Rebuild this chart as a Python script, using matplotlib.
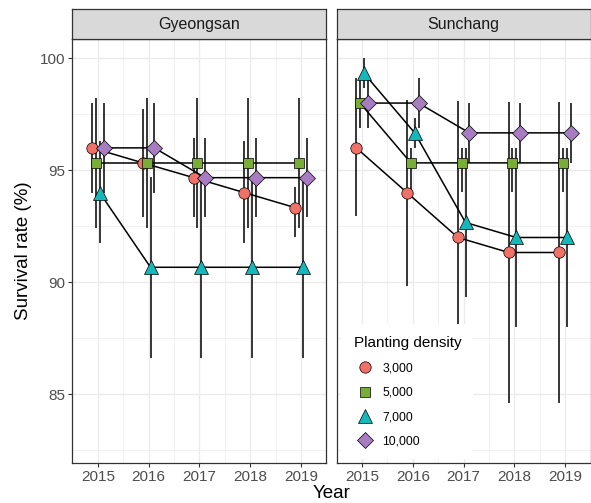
import matplotlib
matplotlib.use("Agg")
import matplotlib.pyplot as plt
from matplotlib.lines import Line2D
import numpy as np

plt.rcParams['font.family'] = ['Liberation Sans', 'DejaVu Sans']

# data
years = [2015, 2016, 2017, 2018, 2019]
densities = ['3,000', '5,000', '7,000', '10,000']
sites = ['Gyeongsan', 'Sunchang']

# Gyeongsan: mean, lower and upper end of error bar
gy_mean = {
    '3,000': [96.0, 95.33, 94.67, 94.0, 93.33],
    '5,000': [95.33, 95.33, 95.33, 95.33, 95.33],
    '7,000': [94.0, 90.67, 90.67, 90.67, 90.67],
    '10,000': [96.0, 96.0, 94.67, 94.67, 94.67],
}
gy_lo = {
    '3,000': [94.0, 92.93, 92.93, 91.74, 92.04],
    '5,000': [92.41, 92.41, 92.41, 92.41, 92.41],
    '7,000': [91.74, 86.6, 86.6, 86.6, 86.6],
    '10,000': [94.0, 94.0, 92.93, 92.93, 92.93],
}
gy_hi = {
    '3,000': [98.0, 97.72, 96.43, 96.31, 94.24],
    '5,000': [98.21, 98.21, 98.21, 98.21, 98.21],
    '7,000': [96.3, 94.71, 94.71, 94.71, 94.71],
    '10,000': [98.0, 98.0, 96.43, 96.43, 96.43],
}

# Sunchang
su_mean = {
    '3,000': [96.0, 94.0, 92.0, 91.33, 91.33],
    '5,000': [98.0, 95.33, 95.33, 95.33, 95.33],
    '7,000': [99.33, 96.67, 92.67, 92.0, 92.0],
    '10,000': [98.0, 98.0, 96.67, 96.67, 96.67],
}
su_lo = {
    '3,000': [92.97, 89.83, 87.9, 84.6, 84.6],
    '5,000': [96.9, 94.04, 94.04, 94.04, 94.04],
    '7,000': [98.66, 96.0, 89.36, 88.0, 88.0],
    '10,000': [96.9, 96.87, 95.33, 95.33, 95.33],
}
su_hi = {
    '3,000': [99.1, 98.15, 98.1, 98.06, 98.06],
    '5,000': [99.1, 95.98, 95.98, 95.98, 95.98],
    '7,000': [100.0, 97.33, 96.0, 96.0, 96.0],
    '10,000': [99.1, 99.13, 98.0, 98.0, 98.0],
}

colors = {'3,000': '#F07167', '5,000': '#7AAD35', '7,000': '#14B7BA', '10,000': '#A87CC0'}
markers = {'3,000': ('o', 8.2), '5,000': ('s', 7.2), '7,000': ('^', 10.5), '10,000': ('D', 8.6)}
dodge = 0.075

W, H = 591, 503
fig = plt.figure(figsize=(W / 100, H / 100), dpi=100)

panel_l = [72.4, 336.6]
panel_w = 254.0
panel_top, panel_bot = 39.0, 463.3
strip_top = 9.3

data = [(gy_mean, gy_lo, gy_hi), (su_mean, su_lo, su_hi)]
axes = []
for k, site in enumerate(sites):
    ax = fig.add_axes([panel_l[k] / W, (H - panel_bot) / H, panel_w / W, (panel_bot - panel_top) / H])
    axes.append(ax)
    means, los, his = data[k]
    for i, d in enumerate(densities):
        x = np.array(years) + (i - 1.5) * dodge
        m = np.array(means[d])
        lo = np.array(los[d])
        hi = np.array(his[d])
        ax.errorbar(x, m, yerr=[m - lo, hi - m], fmt='none', ecolor='black',
                    elinewidth=1.1, capsize=0, zorder=3)
    for i, d in enumerate(densities):
        x = np.array(years) + (i - 1.5) * dodge
        ax.plot(x, means[d], color='black', lw=1.1, zorder=4)
    for i, d in enumerate(densities):
        x = np.array(years) + (i - 1.5) * dodge
        mk, ms = markers[d]
        ax.plot(x, means[d], ls='none', marker=mk, ms=ms, mfc=colors[d],
                mec='black', mew=0.5, zorder=5, label=d)

    ax.set_xlim(2014.65, 2019.35)
    ax.set_ylim(81.92, 100.86)
    ax.set_xticks(years)
    ax.set_xticks(np.arange(2014.5, 2020, 1.0), minor=True)
    ax.set_yticks([85, 90, 95, 100])
    ax.set_yticks([82.5, 87.5, 92.5, 97.5], minor=True)
    ax.grid(which='major', color='#EBEBEB', lw=1.0, zorder=0)
    ax.grid(which='minor', color='#EBEBEB', lw=0.5, zorder=0)
    ax.set_axisbelow(True)
    for s in ax.spines.values():
        s.set_color('#333333')
        s.set_linewidth(0.9)
    ax.tick_params(which='major', length=3, width=0.8, color='#333333',
                   labelcolor='#4D4D4D', labelsize=11, pad=2)
    ax.tick_params(which='minor', length=0)
    if k == 1:
        ax.tick_params(axis='y', which='both', left=False, labelleft=False)

    sax = fig.add_axes([panel_l[k] / W, (H - panel_top) / H, panel_w / W, (panel_top - strip_top) / H])
    sax.set_facecolor('#D9D9D9')
    sax.set_xticks([])
    sax.set_yticks([])
    for s in sax.spines.values():
        s.set_color('#333333')
        s.set_linewidth(0.9)
    sax.text(0.5, 0.5, site, ha='center', va='center', fontsize=11.5, color='#1A1A1A',
             transform=sax.transAxes)

handles = [Line2D([], [], ls='none', marker=markers[d][0], ms=markers[d][1], mfc=colors[d],
                  mec='black', mew=0.5) for d in densities]
leg = axes[1].legend(handles, densities, title='Planting density', loc='lower left',
                     bbox_to_anchor=(0.019, 0.009), borderaxespad=0, frameon=True,
                     fontsize=8.8, title_fontsize=11, alignment='left',
                     labelspacing=1.0, handlelength=1.93, handletextpad=0.4,
                     borderpad=1.0)
leg.get_frame().set_facecolor('white')
leg.get_frame().set_edgecolor('none')
leg.get_frame().set_alpha(1)
leg.set_zorder(10)

fig.text(331.5 / W, 1 - 493 / H, 'Year', ha='center', va='center', fontsize=13.5, color='black')
fig.text(24 / W, 1 - 251 / H, 'Survival rate (%)', ha='center', va='center', rotation=90,
         fontsize=13.5, color='black')

fig.savefig('out.png', dpi=100)
